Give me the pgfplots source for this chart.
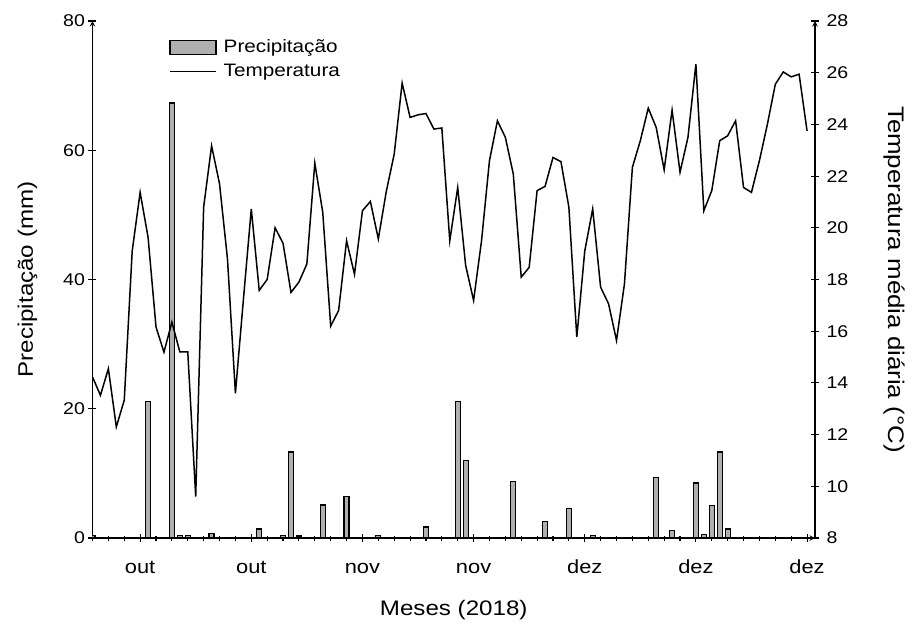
\documentclass[border=0pt]{standalone}
\usepackage{fontspec}
\setmainfont{Liberation Sans}[FakeStretch=1.15]
\usepackage{pgfplots}
\pgfplotsset{compat=1.18}
\definecolor{barfill}{RGB}{175,175,175}

\pgfplotstableread{
day temp
0 14.23
1 13.52
2 14.55
3 12.30
4 13.33
5 19.1
6 21.37
7 19.63
8 16.16
9 15.19
10 16.35
11 15.2
12 15.2
13 9.6
14 20.8
15 23.17
16 21.7
17 18.8
18 13.6
19 17.2
20 20.73
21 17.58
22 18.0
23 20.0
24 19.4
25 17.5
26 17.9
27 18.6
28 22.5
29 20.6
30 16.2
31 16.8
32 19.5
33 18.2
34 20.66
35 21.02
36 19.57
37 21.4
38 22.85
39 25.6
40 24.27
41 24.37
42 24.42
43 23.82
44 23.86
45 19.5
46 21.56
47 18.54
48 17.19
49 19.5
50 22.6
51 24.14
52 23.5
53 22.08
54 18.09
55 18.47
56 21.44
57 21.6
58 22.72
59 22.56
60 20.8
61 15.77
62 19.1
63 20.73
64 17.7
65 17.06
66 15.64
67 17.83
68 22.34
69 23.37
70 24.63
71 23.88
72 22.24
73 24.55
74 22.15
75 23.5
76 26.33
77 20.66
78 21.44
79 23.37
80 23.56
81 24.14
82 21.56
83 21.37
84 22.6
85 24.0
86 25.55
87 26.03
88 25.84
89 25.94
90 23.75
}\tempdata

\pgfplotstableread{
day prec
0 0.4
7 21.1
10 67.3
11 0.4
12 0.4
15 0.7
21 1.4
24 0.4
25 13.3
26 0.3
29 5.1
32 6.4
36 0.4
42 1.7
46 21.1
47 12.0
53 8.7
57 2.6
60 4.6
63 0.4
71 9.4
73 1.1
76 8.5
77 0.5
78 5.0
79 13.3
80 1.4
}\precdata

\begin{document}
\begin{tikzpicture}
\pgfplotsset{
  common/.style={
    scale only axis, width=722.5pt, height=517pt,
    xmin=0, xmax=91,
    tick align=outside,
    major tick length=8pt, minor tick length=5pt,
    every tick/.style={black, line width=1.1pt},
    axis line style={-, line width=1.4pt, black},
    /pgf/number format/assume math mode=true,
    tick label style={font=\fontsize{17}{19}\selectfont},
  }
}
\path[use as bounding box] (-92.5pt,-85pt) rectangle (824.5pt,538pt);
\begin{axis}[common,
  axis x line=bottom, axis y line=left,
  ymin=0, ymax=80, ytick={0,20,...,80},
  xtick={6,20,34,48,62,76,90},
  xticklabels={out,out,nov,nov,dez,dez,dez},
  minor xtick={0,2,...,90},
  xticklabel style={anchor=base, yshift=-31pt, inner sep=0pt, font=\fontsize{19}{21}\selectfont},
  xlabel={Meses (2018)},
  xlabel style={at={(rel axis cs:0.5,0)}, anchor=base, yshift=-77pt, inner sep=0pt, font=\fontsize{21}{24}\selectfont},
  ylabel={Precipitação (mm)},
  ylabel style={at={([xshift=-59.5pt]rel axis cs:0,0.5)}, anchor=base, inner sep=0pt, font=\fontsize{21}{24}\selectfont},
]
\addplot[ybar, bar width=5pt, fill=barfill, draw=black, line width=1.2pt] table[x=day, y=prec] {\precdata};
\end{axis}
\begin{axis}[common,
  axis x line=none, axis y line=right,
  xtick=\empty,
  ymin=8, ymax=28, ytick={8,10,...,28},
  yticklabel style={xshift=4pt},
  ylabel={Temperatura média diária (°C)},
  ylabel style={at={([xshift=73pt]rel axis cs:1,0.5)}, anchor=base, rotate=180, inner sep=0pt, font=\fontsize{22.5}{25}\selectfont},
  legend style={at={(rel axis cs:0,1)}, anchor=north west, xshift=76.5pt, yshift=-16pt,
    draw=none, fill=none, inner sep=0pt, row sep=3pt, column sep=6pt,
    font=\fontsize{18}{21}\selectfont,
    nodes={inner sep=1pt, text height=14pt, text depth=5pt}},
  legend cell align=left,
]
\addlegendimage{legend image code/.code={\draw[fill=barfill, draw=black, line width=1.2pt] (0pt,-7pt) rectangle (46pt,7pt);}}
\addlegendentry{Precipitação}
\addplot[black, line width=1.5pt, legend image code/.code={\draw[black, line width=1.5pt] (0pt,0pt) -- (46pt,0pt);}] table[x=day, y=temp] {\tempdata};
\addlegendentry{Temperatura}
\end{axis}
\end{tikzpicture}
\end{document}
